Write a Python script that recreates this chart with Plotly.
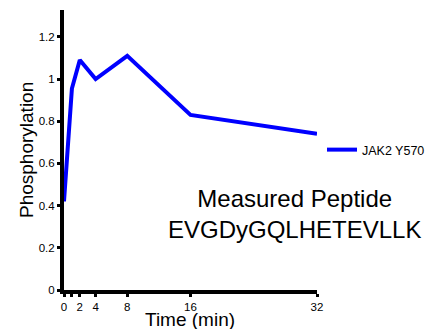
import plotly.graph_objects as go

time_min = [0, 1, 2, 4, 8, 16, 32]
phospho = [0.42, 0.955, 1.09, 1.0, 1.11, 0.83, 0.74]
x_tickvals = [0, 1, 2, 4, 8, 16, 32]
x_ticktext = ["0", "", "2", "4", "8", "16", "32"]
y_tickvals = [0, 0.2, 0.4, 0.6, 0.8, 1.0, 1.2]
y_ticktext = ["0", "0.2", "0.4", "0.6", "0.8", "1", "1.2"]

L, R, T, B = 64, 109, 10, 39
W, H = 426, 329
pw, ph = W - L - R, H - T - B

def px(xp):
    return (xp - L) / pw

def py(yp):
    return (H - B - yp) / ph

fig = go.Figure()
fig.add_trace(go.Scatter(x=time_min, y=phospho, mode="lines", name="JAK2 Y570",
                         line=dict(color="#0000ff", width=4)))

fig.update_layout(
    width=W, height=H,
    margin=dict(l=L, r=R, t=T, b=B),
    paper_bgcolor="white", plot_bgcolor="white",
    font=dict(family="Liberation Sans, Arial", color="black"),
    showlegend=True,
    legend=dict(xref="container", yref="container", x=322 / W, y=1 - 150 / H,
                xanchor="left", yanchor="middle",
                font=dict(size=12.5), bgcolor="rgba(0,0,0,0)"),
    xaxis=dict(range=[0, 32], tickvals=x_tickvals, ticktext=x_ticktext, automargin=False,
               showgrid=False, zeroline=False, showline=True, linecolor="black", linewidth=4,
               ticks="outside", ticklen=3, tickwidth=3, tickcolor="black",
               tickfont=dict(size=11.5)),
    yaxis=dict(range=[0, 1.327], tickvals=y_tickvals, ticktext=y_ticktext, automargin=False,
               showgrid=False, zeroline=False, showline=True, linecolor="black", linewidth=4,
               ticks="outside", ticklen=3, tickwidth=3, tickcolor="black",
               tickfont=dict(size=11.5)),
    annotations=[
        dict(text="Measured Peptide<br>EVGDyGQLHETEVLLK", x=px(294), y=py(214),
             xref="paper", yref="paper", showarrow=False, xanchor="center", yanchor="middle",
             font=dict(size=24), align="center"),
        dict(text="Time (min)", x=px(190), y=py(319), xref="paper", yref="paper",
             showarrow=False, xanchor="center", yanchor="middle", font=dict(size=19)),
        dict(text="Phosphorylation", x=px(26), y=py(150), xref="paper", yref="paper",
             showarrow=False, xanchor="center", yanchor="middle", textangle=-90,
             font=dict(size=19)),
    ],
)

post = ("document.body.style.margin='0';document.body.style.padding='0';"
        "document.body.style.overflow='hidden';")
fig.write_html("out.html", post_script=post, config={"displayModeBar": False})
